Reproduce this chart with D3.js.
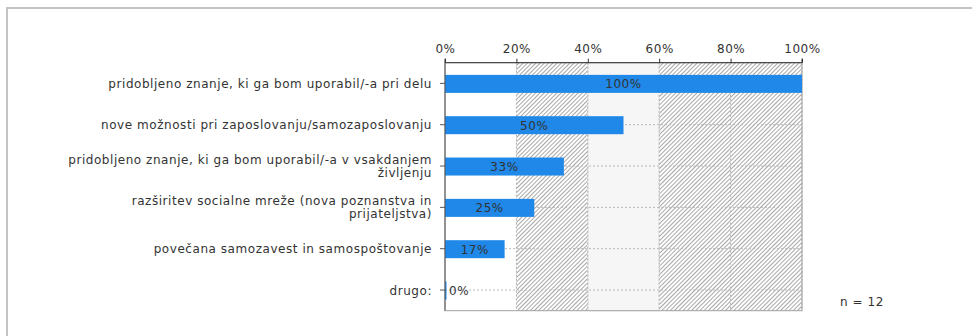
<!DOCTYPE html>
<html><head><meta charset="utf-8">
<script src="https://cdn.jsdelivr.net/npm/d3@7"></script>
<style>body{margin:0;background:#fff}svg{display:block}</style>
</head><body>
<script>
const categories = [
  ["pridobljeno znanje, ki ga bom uporabil/-a pri delu"],
  ["nove možnosti pri zaposlovanju/samozaposlovanju"],
  ["pridobljeno znanje, ki ga bom uporabil/-a v vsakdanjem", "življenju"],
  ["razširitev socialne mreže (nova poznanstva in", "prijateljstva)"],
  ["povečana samozavest in samospoštovanje"],
  ["drugo:"]
];
const values = [100, 50, 33.3, 25, 16.7, 0];
const valueLabels = ["100%", "50%", "33%", "25%", "17%", "0%"];
const ticks = [0, 20, 40, 60, 80, 100];
const tickLabels = ["0%", "20%", "40%", "60%", "80%", "100%"];
const bandStyles = ["plain", "hatch", "light", "hatch", "hatch"];
const nLabel = "n = 12";

(function () {
const W = 972, H = 336;
const svg = d3.select("body").append("svg").attr("width", W).attr("height", H);
const font = "DejaVu Sans, Verdana, sans-serif";
const fs = 12, ls = 0.55;

const defs = svg.append("defs");
const pat = defs.append("pattern").attr("id", "hatch").attr("patternUnits", "userSpaceOnUse")
  .attr("width", 3).attr("height", 3).attr("patternTransform", "rotate(45)");
pat.append("rect").attr("width", 3).attr("height", 3).attr("fill", "#fff");
pat.append("line").attr("x1", 0.5).attr("y1", 0).attr("x2", 0.5).attr("y2", 3)
  .attr("stroke", "#a8a8a8").attr("stroke-width", 1);

// outer frame
svg.append("path").attr("d", `M7,${H} V8 H${W}`).attr("fill", "none")
  .attr("stroke", "#c4c4c4").attr("stroke-width", 2);

const pTop = 62.7, pBottom = 310.7;
const x = d3.scaleLinear().domain([0, 100]).range([445, 802]);
const y = d3.scaleBand().domain(d3.range(categories.length)).range([pTop, pBottom]);

// background bands
const g = svg.append("g");
d3.pairs(ticks).forEach(([a, b], i) => {
  const s = bandStyles[i];
  g.append("rect").attr("x", x(a)).attr("y", pTop).attr("width", x(b) - x(a)).attr("height", pBottom - pTop)
    .attr("fill", s === "hatch" ? "url(#hatch)" : (s === "light" ? "#f6f6f6" : "#fff"))
    .attr("stroke", s === "light" ? "#e4e4e4" : "none");
});

// gridlines
g.selectAll(".vg").data(ticks.slice(1)).join("line")
  .attr("x1", d => x(d)).attr("x2", d => x(d)).attr("y1", pTop).attr("y2", pBottom)
  .attr("stroke", "#b0b0b0").attr("stroke-dasharray", "2,2");
g.selectAll(".hg").data(d3.range(categories.length)).join("line")
  .attr("x1", x(0)).attr("x2", x(100))
  .attr("y1", d => y(d) + y.bandwidth() / 2).attr("y2", d => y(d) + y.bandwidth() / 2)
  .attr("stroke", "#b8b8b8").attr("stroke-dasharray", "2,2");

// border
g.append("rect").attr("x", x(0)).attr("y", pTop).attr("width", x(100) - x(0)).attr("height", pBottom - pTop)
  .attr("fill", "none").attr("stroke", "#a0a0a0");

// bars
const barH = 18;
svg.selectAll(".bar").data(values).join("rect")
  .attr("x", x(0)).attr("y", (d, i) => y(i) + y.bandwidth() / 2 - barH / 2 + 0.5)
  .attr("width", d => Math.max(x(d) - x(0), 1.5)).attr("height", barH)
  .attr("fill", "#1f88e8");

// value labels
svg.selectAll(".vl").data(values).join("text")
  .attr("x", (d, i) => d > 0 ? (x(0) + x(d)) / 2 : x(0) + 4)
  .attr("y", (d, i) => y(i) + y.bandwidth() / 2 + 5)
  .attr("text-anchor", d => d > 0 ? "middle" : "start")
  .attr("font-family", font).attr("font-size", fs).attr("letter-spacing", ls).attr("fill", "#333")
  .text((d, i) => valueLabels[i]);

// top axis
const axTop = svg.append("g").attr("transform", `translate(0,${pTop})`)
  .call(d3.axisTop(x).tickValues(ticks).tickSize(4).tickPadding(6).tickFormat((d, i) => tickLabels[i]));
axTop.select(".domain").attr("stroke", "#333").attr("d", `M${x(0)},-4V0H${x(100)}V-4`);
axTop.selectAll(".tick line").attr("stroke", "#333");
axTop.selectAll("text").attr("font-family", font).attr("font-size", fs).attr("letter-spacing", ls).attr("fill", "#333");

// left axis
const axLeft = svg.append("g").attr("transform", `translate(${x(0)},0)`)
  .call(d3.axisLeft(y).tickSize(5).tickFormat(""));
axLeft.select(".domain").attr("stroke", "#555").attr("d", `M0,${pTop}V${pBottom}`);
axLeft.selectAll(".tick line").attr("stroke", "#555");

// category labels
const cl = svg.selectAll(".cl").data(categories).join("text")
  .attr("text-anchor", "end").attr("font-family", font).attr("font-size", fs)
  .attr("letter-spacing", ls).attr("fill", "#333");
cl.each(function (lines, i) {
  const cy = y(i) + y.bandwidth() / 2;
  const t = d3.select(this);
  const lh = 13;
  lines.forEach((ln, k) => {
    t.append("tspan").attr("x", 432)
      .attr("y", cy + 4.5 + (k - (lines.length - 1) / 2) * lh).text(ln);
  });
});

svg.append("text").attr("x", 840).attr("y", 306).attr("font-family", font).attr("font-size", fs)
  .attr("letter-spacing", ls).attr("fill", "#333").text(nLabel);
})();
</script>
</body></html>
